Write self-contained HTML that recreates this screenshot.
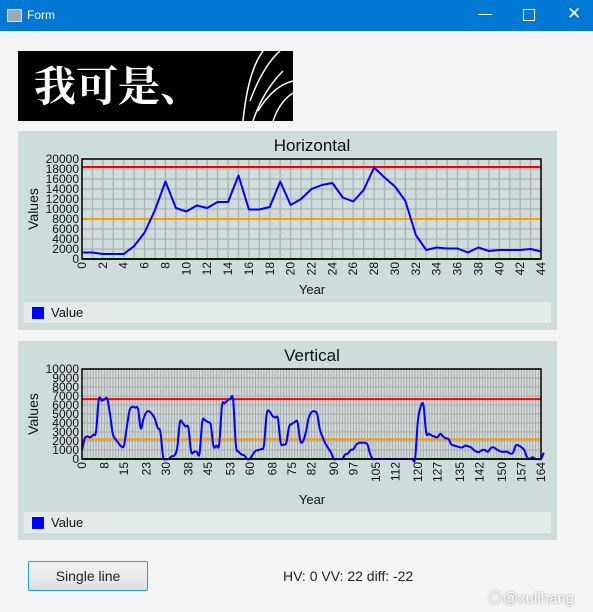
<!DOCTYPE html>
<html><head><meta charset="utf-8"><style>
body{margin:0;width:593px;height:612px;background:#f4f4f4;font-family:"Liberation Sans","Noto Sans CJK SC",sans-serif;position:relative;overflow:hidden}
.tb{position:absolute;left:0;top:0;width:593px;height:31px;background:#0078d4;color:#fff}
.panel{position:absolute;left:18px;width:539px;height:199px;background:#cfdcdc}
.leg{position:absolute;left:6px;width:527px;height:21px;background:#e2eaea}
.sq{position:absolute;left:8px;top:5px;width:12px;height:12px;background:#0000ff}
.lt{position:absolute;left:27px;top:3px;font-size:13px;color:#111}
svg{position:absolute;left:0;top:0}
</style></head><body>
<div class="tb">
 <div style="position:absolute;left:7px;top:9px;width:13px;height:11px;background:#9ab;border:1px solid #ddd"></div>
 <div style="position:absolute;left:27px;top:8px;font-size:12px">Form</div>
 <div style="position:absolute;left:478px;top:5px;font-size:14px">—</div>
 <div style="position:absolute;left:523px;top:9px;width:10px;height:10px;border:1px solid #fff"></div>
 <div style="position:absolute;left:567px;top:4px;font-size:17px">✕</div>
</div>
<div style="position:absolute;left:18px;top:51px;width:275px;height:70px;background:#000;overflow:hidden">
 <div style="position:absolute;left:16px;top:8px;color:#fff;font-size:42px;font-weight:bold;font-family:'Noto Serif CJK SC',serif;line-height:50px">我可是、</div>
 <svg width="275" height="70" style="position:absolute;left:0;top:0"><g stroke="#fff" stroke-width="1.5" fill="none"><path d="M225 70 Q230 20 245 0"/><path d="M235 70 Q245 40 265 20"/><path d="M240 60 Q255 35 275 30"/><path d="M255 70 Q262 50 275 42"/><path d="M232 50 Q245 15 262 0"/></g></svg>
</div>
<div class="panel" style="top:131px">
 <div class="leg" style="top:171px"><div class="sq"></div><div class="lt">Value</div></div>
</div>
<div class="panel" style="top:341px">
 <div class="leg" style="top:171px"><div class="sq"></div><div class="lt">Value</div></div>
</div>
<svg id="charts" width="593" height="612"></svg>
<div style="position:absolute;left:28px;top:561px;width:118px;height:28px;border:1px solid #1ea0e6;border-radius:2px;background:linear-gradient(#f4f4f4,#dedede);font-size:14px;text-align:center;line-height:28px;color:#222">Single line</div>
<div style="position:absolute;left:283px;top:568px;font-size:14px;color:#222">HV: 0 VV: 22 diff: -22</div>
<div style="position:absolute;left:488px;top:587px;font-size:15px;color:#fff;text-shadow:0 0 2px #888">◎@xulihang</div>
<script>
const hValues=[1300,1300,1000,1000,1000,2600,5300,9800,15500,10200,9500,10700,10200,11400,11400,16700,9900,9900,10400,15500,10800,12000,14000,14800,15200,12300,11500,13800,18300,16300,14500,11600,4800,1800,2300,2100,2100,1300,2300,1600,1800,1800,1800,2000,1500];
const hRed=18400, hOrange=8000;
const hYTicks=[0,2000,4000,6000,8000,10000,12000,14000,16000,18000,20000];
const hXTicks=[0,2,4,6,8,10,12,14,16,18,20,22,24,26,28,30,32,34,36,38,40,42,44];
const vValues=[1000,2300,2500,2400,2700,3000,6600,6500,6600,6700,5000,2800,2200,1800,1400,1500,3500,5400,5800,5700,5600,3400,4500,5200,5300,5000,4500,3500,3000,200,0,0,300,400,1200,4100,4000,3600,3500,800,800,800,600,4200,4300,4100,3800,1400,1500,1600,5900,6200,6500,6700,6600,1500,800,500,400,0,0,500,900,1000,1100,1500,5000,5300,4800,4600,4500,1800,1600,1800,3600,3900,4100,4100,2000,2000,3000,4600,5200,5300,5000,3300,2400,1700,1200,700,0,0,0,0,500,600,1000,1100,1600,1800,1800,1800,1600,500,0,0,0,0,0,0,0,0,0,0,0,0,0,0,0,0,4200,5800,6000,2900,2800,2600,2500,2400,2800,2500,2300,2200,1600,1500,1400,1300,1300,1500,1400,1300,1000,800,800,1000,1000,800,1200,1300,1100,900,800,800,800,600,700,1500,1500,1300,1000,200,0,200,0,0,0,700];
const vRed=6650, vOrange=2200;
const vYTicks=[0,1000,2000,3000,4000,5000,6000,7000,8000,9000,10000];
const vXTicks=[0,8,15,23,30,38,45,53,60,68,75,82,90,97,105,112,120,127,135,142,150,157,164];
const NS='http://www.w3.org/2000/svg';
const svg=document.getElementById('charts');
function mk(t,a,p){const e=document.createElementNS(NS,t);for(const k in a)e.setAttribute(k,a[k]);(p||svg).appendChild(e);return e;}
function chart(o){
 const g=mk('g',{});
 
 
 const L=82,R=541,T=o.top,B=o.top+o.h;
 const xs=v=>L+(v-0)/(o.xmax)*(R-L), ys=v=>B-v/o.ymax*(B-T);
 const bg=mk('rect',{x:L,y:T,width:R-L,height:B-T,fill:o.bg},g);
 
 
 for(let i=0;i<=o.xmax;i+=1){mk('line',{x1:xs(i),x2:xs(i),y1:T,y2:B,stroke:o.gc,'stroke-width':o.xmax>60?1:1.3},g);}
 for(let v=0;v<=o.ymax;v+=o.ystep){mk('line',{x1:L,x2:R,y1:ys(v),y2:ys(v),stroke:'#aeb2b2','stroke-width':1.3},g);}
 o.yt.forEach(v=>{const t=mk('text',{x:L-3,y:ys(v)+4,'text-anchor':'end','font-size':12,fill:'#111'},g);t.textContent=v;
  });
 o.xt.forEach(v=>{const x=xs(v);const t=mk('text',{x:0,y:0,'text-anchor':'end','font-size':12,fill:'#111',transform:`translate(${x+4},${B+3}) rotate(-90)`},g);t.textContent=v;
  });
 const ttl=mk('text',{x:312,y:T-8,'text-anchor':'middle','font-size':17,fill:'#111'},g);ttl.textContent=o.title;
 
 const xl=mk('text',{x:312,y:o.xlY,'text-anchor':'middle','font-size':13,fill:'#111'},g);xl.textContent='Year';
 
 const yl=mk('text',{x:0,y:0,'text-anchor':'middle','font-size':14,fill:'#111',transform:`translate(38,${(T+B)/2}) rotate(-90)`},g);yl.textContent='Values';
 
 const r=mk('line',{x1:L,x2:R,y1:ys(o.red),y2:ys(o.red),stroke:'#ff0000','stroke-width':2},g);
 
 const or=mk('line',{x1:L,x2:R,y1:ys(o.orange),y2:ys(o.orange),stroke:'#ff9a00','stroke-width':2},g);
 
 const gr=mk('line',{x1:L,x2:R,y1:B,y2:B,stroke:'#008000','stroke-width':2},g);
 
 const P=o.vals.map((v,i)=>[xs(i),ys(v)]);
 let d='M'+P[0][0]+','+P[0][1];
 if(o.smooth){for(let i=0;i<P.length-1;i++){const p0=P[Math.max(0,i-1)],p1=P[i],p2=P[i+1],p3=P[Math.min(P.length-1,i+2)];
  d+=` C${p1[0]+(p2[0]-p0[0])/6},${p1[1]+(p2[1]-p0[1])/6} ${p2[0]-(p3[0]-p1[0])/6},${p2[1]-(p3[1]-p1[1])/6} ${p2[0]},${p2[1]}`;}}
 else P.slice(1).forEach(p=>d+=' L'+p[0]+','+p[1]);
 const ln=mk('path',{d:d,fill:'none',stroke:'#0000ff','stroke-width':2,'stroke-linejoin':'round'},g);
 
 const fr=mk('rect',{x:L,y:T,width:R-L,height:B-T,fill:'none',stroke:'#000','stroke-width':1.5},g);
 
}
chart({name:'horizontal-chart',title:'Horizontal',top:159,h:100,xmax:44,ymax:20000,ystep:2000,yt:hYTicks,xt:hXTicks,vals:hValues,red:hRed,orange:hOrange,xlY:294,smooth:false,bg:'#cfdcdc',gc:'#aeb2b2'});
chart({name:'vertical-chart',title:'Vertical',top:369,h:90,xmax:164,ymax:10000,ystep:1000,yt:vYTicks,xt:vXTicks,vals:vValues,red:vRed,orange:vOrange,xlY:504,smooth:true,bg:'#d2dada',gc:'#a8aeae'});
</script>
</body></html>
